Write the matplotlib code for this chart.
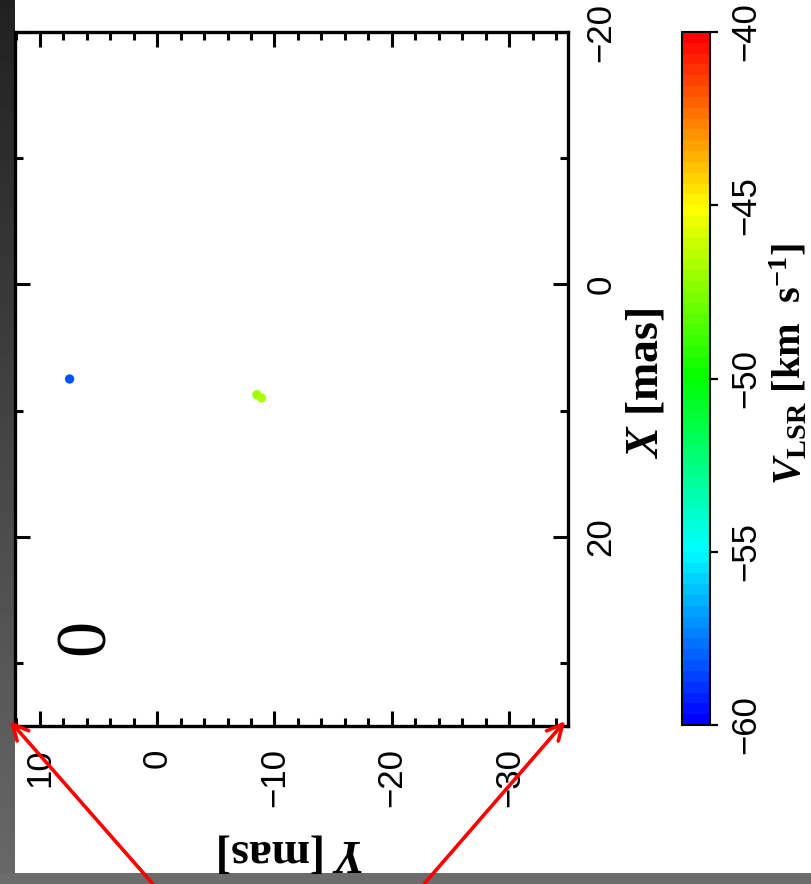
import numpy as np
import matplotlib
matplotlib.use("Agg")
import matplotlib.pyplot as plt
from matplotlib.colors import LinearSegmentedColormap
from matplotlib.ticker import MultipleLocator

plt.rcParams['font.family'] = ['Liberation Sans', 'DejaVu Sans']
plt.rcParams['mathtext.fontset'] = 'custom'
plt.rcParams['mathtext.it'] = 'Liberation Serif:italic:bold'
plt.rcParams['mathtext.rm'] = 'Liberation Serif:bold'
plt.rcParams['mathtext.bf'] = 'Liberation Serif:bold'

# maser spots (offsets in mas, velocity in km/s)
x_off = [7.5, 8.75, 9.0]
y_off = [7.45, -8.5, -8.9]
vlsr = [-58.3, -46.9, -46.8]

xlim = (35, -20)      # X offset, drawn vertically
ylim = (12.1, -35)    # Y offset, drawn horizontally
vmin, vmax = -60, -40
cbar_ticks = [-60, -55, -50, -45, -40]
panel_label = "0"

W, H = 811, 884
fig = plt.figure(figsize=(W / 100, H / 100), dpi=100)

def px(x0, y0, x1, y1):
    # pixel box (top-left origin) -> figure fraction rect
    return [x0 / W, 1 - y1 / H, (x1 - x0) / W, (y1 - y0) / H]

# grey frame round the screenshot
bg = fig.add_axes([0, 0, 1, 1], zorder=-10)
bg.set_xlim(0, W)
bg.set_ylim(H, 0)
bg.axis('off')
grad = np.linspace(0.13, 0.41, 200)[:, None]
bg.imshow(grad, cmap='gray', vmin=0, vmax=1, extent=[0, 15, H, 0], aspect='auto')
bg.add_patch(plt.Rectangle((0, 873), W, 11, color='#6c6c6c', lw=0))

cmap = LinearSegmentedColormap.from_list(
    'vlsr', ['#0000ff', '#00ffff', '#00ff00', '#ffff00', '#ff0000'], N=64)

ax = fig.add_axes(px(15, 32, 568, 726))
sc = ax.scatter(y_off, x_off, c=vlsr, cmap=cmap, vmin=vmin, vmax=vmax,
                s=45, edgecolors='none', zorder=3)
ax.set_xlim(*ylim)
ax.set_ylim(*xlim)

for s in ax.spines.values():
    s.set_linewidth(2.4)
ax.xaxis.set_major_locator(MultipleLocator(10))
ax.xaxis.set_minor_locator(MultipleLocator(2))
ax.yaxis.set_major_locator(MultipleLocator(20))
ax.yaxis.set_minor_locator(MultipleLocator(10))
ax.tick_params(which='both', direction='in', top=True, bottom=True,
               left=True, right=True, width=2.2, labelsize=25)
ax.tick_params(which='major', length=11)
ax.tick_params(which='minor', length=6)
ax.tick_params(axis='x', labelbottom=True, labeltop=False, labelrotation=90, pad=16)
ax.tick_params(axis='y', labelleft=False, labelright=True, labelrotation=90, pad=12)
fmt = lambda v, p: f"{v:g}".replace('-', '\u2212')
ax.xaxis.set_major_formatter(fmt)
ax.yaxis.set_major_formatter(fmt)

ax.text(86 / W, 1 - 637 / H, panel_label, transform=fig.transFigure,
        rotation=90, ha='center', va='center', fontsize=52,
        family='Liberation Serif')

# red zoom arrows to the box corners
for corner, start in [((-0.009, 0.007), (153, 0)), ((0.995, 0.007), (424, 0))]:
    ax.annotate('', xy=corner, xycoords='axes fraction',
                xytext=start, textcoords='figure pixels',
                arrowprops=dict(arrowstyle='->', color='red', lw=2.6,
                                mutation_scale=28, shrinkA=0, shrinkB=0),
                annotation_clip=False)

cax = fig.add_axes(px(682, 32, 710, 725))
cb = fig.colorbar(sc, cax=cax, orientation='vertical')
cb.set_ticks(cbar_ticks)
cb.ax.yaxis.set_major_formatter(fmt)
cb.outline.set_linewidth(1.5)
cax.tick_params(direction='out', length=6, width=1.6, labelsize=25,
                labelrotation=90, pad=8)

fig.text(646 / W, 1 - 383 / H, "$X$ [mas]", rotation=90, ha='center',
         va='center', fontsize=33, family='Liberation Serif', weight='bold')
fig.text(291 / W, 1 - 852 / H, "$Y$ [mas]", rotation=180, ha='center',
         va='center', fontsize=33, family='Liberation Serif', weight='bold')
fig.text(789 / W, 1 - 364 / H, r"$V_{\mathrm{LSR}}$ [km  s$^{-1}$]",
         rotation=90, ha='center', va='center', fontsize=29,
         family='Liberation Serif', weight='bold')

# centre the rotated right-hand labels on their ticks
fig.canvas.draw()
for t in ax.get_yticklabels(which='major') + cax.get_yticklabels():
    t.set_va('center')

fig.savefig("out.png", dpi=100)
